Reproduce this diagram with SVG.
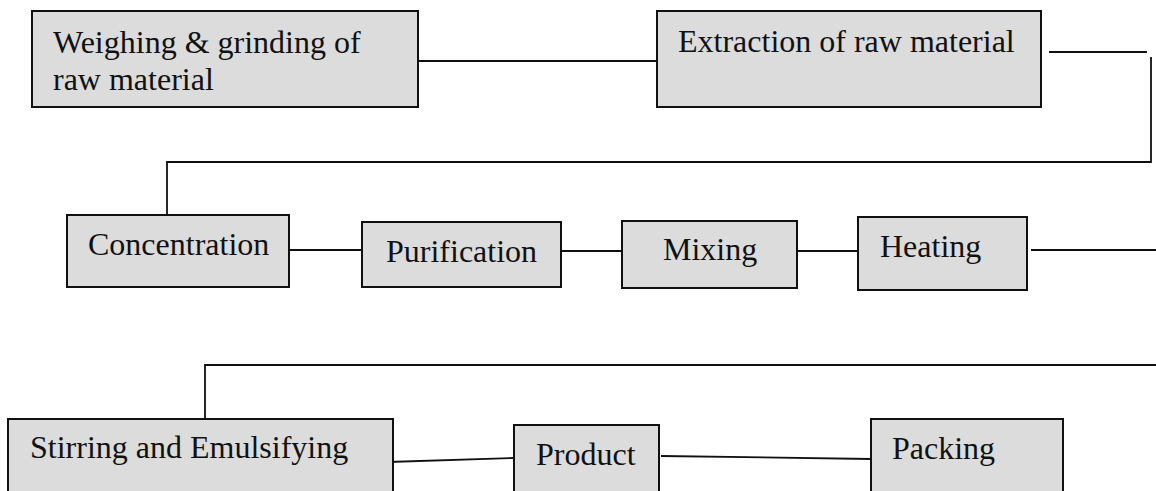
<svg xmlns="http://www.w3.org/2000/svg" width="1156" height="491" viewBox="0 0 1156 491">
<style>
.box{fill:#dcdcdc;stroke:#111;stroke-width:2}
.t{font-family:"Liberation Serif","Times New Roman",serif;font-size:32px;fill:#111}
.c{fill:none;stroke:#111;stroke-width:1.8}
</style>
<rect width="1156" height="491" fill="#fff"/>
<g id="connectors">
<line class="c" x1="418" y1="61" x2="657" y2="61"/>
<line class="c" x1="1049" y1="52" x2="1147" y2="52"/>
<polyline class="c" points="1151,57 1151,162 167,162 167,215"/>
<line class="c" x1="289" y1="250" x2="362" y2="250"/>
<line class="c" x1="561" y1="251" x2="622" y2="251"/>
<line class="c" x1="797" y1="251" x2="858" y2="251"/>
<line class="c" x1="1031" y1="250" x2="1156" y2="250"/>
<polyline class="c" points="1156,365 205,365 205,420"/>
<line class="c" x1="388" y1="462" x2="514" y2="458"/>
<line class="c" x1="661" y1="456" x2="871" y2="459"/>
</g>
<g id="weighing">
<rect class="box" x="32" y="11" width="386" height="96"/>
<text class="t" x="53" y="53">Weighing &amp; grinding of</text>
<text class="t" x="53" y="90">raw material</text>
</g>
<g id="extraction">
<rect class="box" x="657" y="11" width="384" height="96"/>
<text class="t" x="678" y="52">Extraction of raw material</text>
</g>
<g id="concentration">
<rect class="box" x="67" y="215" width="222" height="72"/>
<text class="t" x="88" y="255">Concentration</text>
</g>
<g id="purification">
<rect class="box" x="362" y="222" width="199" height="65"/>
<text class="t" x="386" y="262">Purification</text>
</g>
<g id="mixing">
<rect class="box" x="622" y="221" width="175" height="67"/>
<text class="t" x="663" y="260">Mixing</text>
</g>
<g id="heating">
<rect class="box" x="858" y="217" width="169" height="73"/>
<text class="t" x="880" y="257">Heating</text>
</g>
<g id="stirring">
<rect class="box" x="8" y="419" width="385" height="80"/>
<text class="t" x="30" y="458">Stirring and Emulsifying</text>
</g>
<g id="product">
<rect class="box" x="514" y="425" width="145" height="74"/>
<text class="t" x="536" y="465">Product</text>
</g>
<g id="packing">
<rect class="box" x="871" y="419" width="192" height="80"/>
<text class="t" x="892" y="459">Packing</text>
</g>
</svg>
